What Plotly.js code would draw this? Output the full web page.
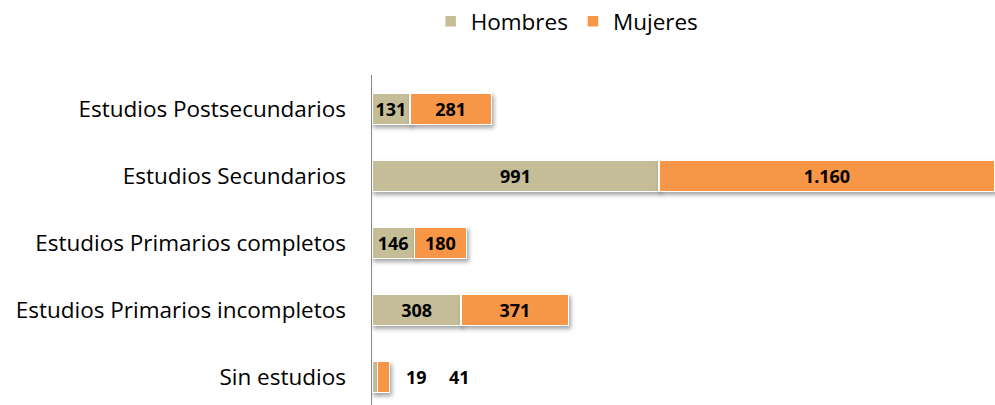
<!DOCTYPE html>
<html><head><meta charset="utf-8">
<script src="https://cdn.plot.ly/plotly-3.0.1.min.js"></script>
<style>
html,body{margin:0;padding:0;background:#fff;}
#chart{width:995px;height:405px;}
.bars .point path{filter:drop-shadow(2px 3px 2px rgba(0,0,0,0.35));}
</style>
</head><body>
<div id="chart"></div>
<script>
const categories = ["Sin estudios","Estudios Primarios incompletos","Estudios Primarios completos","Estudios Secundarios","Estudios Postsecundarios"];
const hombres = [19, 308, 146, 991, 131];
const mujeres = [41, 371, 180, 1160, 281];
const seriesNames = ["Hombres","Mujeres"];
const colors = ["#C4BD97","#F79646"];

function fmt(v){ return String(v).replace(/\B(?=(\d{3})+(?!\d))/g, "."); }
const minInside = 50;
const FONT = '"Open Sans", "Noto Sans", sans-serif';

const series = [hombres, mujeres];
const traces = series.map((vals,i)=>({
  type:'bar', orientation:'h', name:seriesNames[i],
  y:categories, x:vals,
  marker:{color:colors[i], line:{color:'#ffffff', width:1.5}},
  text: vals.map(v=> v>=minInside ? fmt(v) : ''),
  textposition:'inside', insidetextanchor:'middle', textangle:0,
  constraintext:'none',
  textfont:{family:FONT, size:18, color:'#000', weight:'bold'},
  hoverinfo:'x+name', cliponaxis:false
}));

// labels for bars too narrow to hold their value
const annotations = [];
categories.forEach((c,j)=>{
  const total = hombres[j] + mujeres[j];
  const shifts = [15, 58];
  series.forEach((vals,i)=>{
    if(vals[j] < minInside){
      annotations.push({x:total, y:c, xref:'x', yref:'y', text:fmt(vals[j]), showarrow:false,
        xanchor:'left', xshift:shifts[i],
        font:{family:FONT, size:18, color:'#000', weight:'bold'}});
    }
  });
});

const total = hombres.map((h,j)=>h+mujeres[j]);
const layout = {
  width:995, height:405,
  margin:{l:372, r:0, t:75, b:0, pad:0},
  paper_bgcolor:'#fff', plot_bgcolor:'#fff',
  barmode:'stack', bargap:0.53,
  showlegend:true,
  legend:{orientation:'h', x:0.57, xanchor:'center', xref:'container', y:1, yanchor:'top', yref:'container',
    font:{family:FONT, size:22.5, color:'#000'}, traceorder:'normal', itemwidth:30},
  xaxis:{range:[0, Math.max(...total)], visible:false, fixedrange:true},
  yaxis:{type:'category', range:[-0.418, 4.507], showline:true, linecolor:'#868686', linewidth:1.5,
    ticks:'', ticklabelstandoff:20, showgrid:false, zeroline:false,
    tickfont:{family:FONT, size:22.5, color:'#000'}},
  annotations:annotations,
  font:{family:FONT}
};
Plotly.newPlot('chart', traces, layout, {displayModeBar:false, staticPlot:true});
</script>
</body></html>
